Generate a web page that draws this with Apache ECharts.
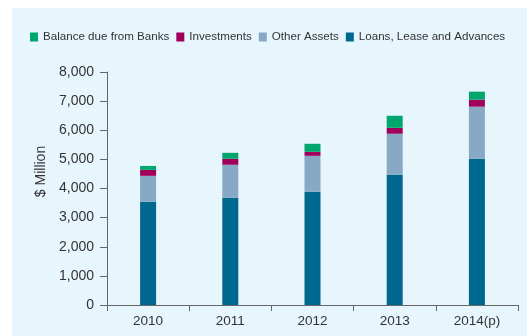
<!DOCTYPE html>
<html><head><meta charset="utf-8">
<script src="https://cdn.jsdelivr.net/npm/echarts@6/dist/echarts.min.js"></script>
<style>
html,body{margin:0;padding:0;background:#fff;}
#bg{position:absolute;left:12px;top:8px;width:515px;height:328px;background:#e7f5fc;}
#c{position:absolute;left:0;top:0;width:527px;height:336px;}
</style></head>
<body><div id="bg"></div><div id="c"></div>
<script>
const categories = ['2010','2011','2012','2013','2014(p)'];
const loans = [3540, 3680, 3885, 4470, 5020];
const otherAssets = [895, 1135, 1237, 1410, 1790];
const investments = [205, 205, 138, 205, 240];
const balanceBanks = [135, 205, 275, 412, 275];
const yTicks = [0, 1000, 2000, 3000, 4000, 5000, 6000, 7000, 8000];

const chart = echarts.init(document.getElementById('c'), null, {renderer:'canvas'});
const font = 'Liberation Sans, Arial, Helvetica, sans-serif';
function s(name, data, color){
  return {name, type:'bar', stack:'a', data, barWidth:16, itemStyle:{color}, emphasis:{disabled:true}};
}
chart.setOption({
  animation:false,
  textStyle:{fontFamily:font},
  legend:{
    left:25, top:26, itemWidth:8, itemHeight:9, itemGap:7,
    icon:'rect',
    textStyle:{fontSize:11.6, color:'#333', fontFamily:font},
    data:['Balance due from Banks','Investments','Other Assets','Loans, Lease and Advances']
  },
  grid:{left:107, right:9, top:72, bottom:31},
  xAxis:{
    type:'category', data:categories,
    axisLine:{lineStyle:{color:'#666', width:1}},
    axisTick:{show:true, length:6, lineStyle:{color:'#666'}},
    axisLabel:{color:'#333', fontSize:13.5, margin:9, fontFamily:font}
  },
  yAxis:{
    type:'value', min:yTicks[0], max:yTicks[yTicks.length-1], interval:1000,
    name:'$ Million', nameLocation:'middle', nameGap:59, nameRotate:90,
    nameTextStyle:{fontSize:14, color:'#333', fontFamily:font, padding:[0,0,0,34]},
    splitLine:{show:false},
    axisLine:{show:true, lineStyle:{color:'#666', width:1}},
    axisTick:{show:true, length:7, lineStyle:{color:'#666'}},
    axisLabel:{color:'#333', fontSize:14, margin:13, fontFamily:font,
      formatter:v=>v.toLocaleString('en-US')}
  },
  series:[
    s('Loans, Lease and Advances', loans, '#00678f'),
    s('Other Assets', otherAssets, '#87a9c6'),
    s('Investments', investments, '#a1005a'),
    s('Balance due from Banks', balanceBanks, '#00a76d')
  ]
});
</script></body></html>
